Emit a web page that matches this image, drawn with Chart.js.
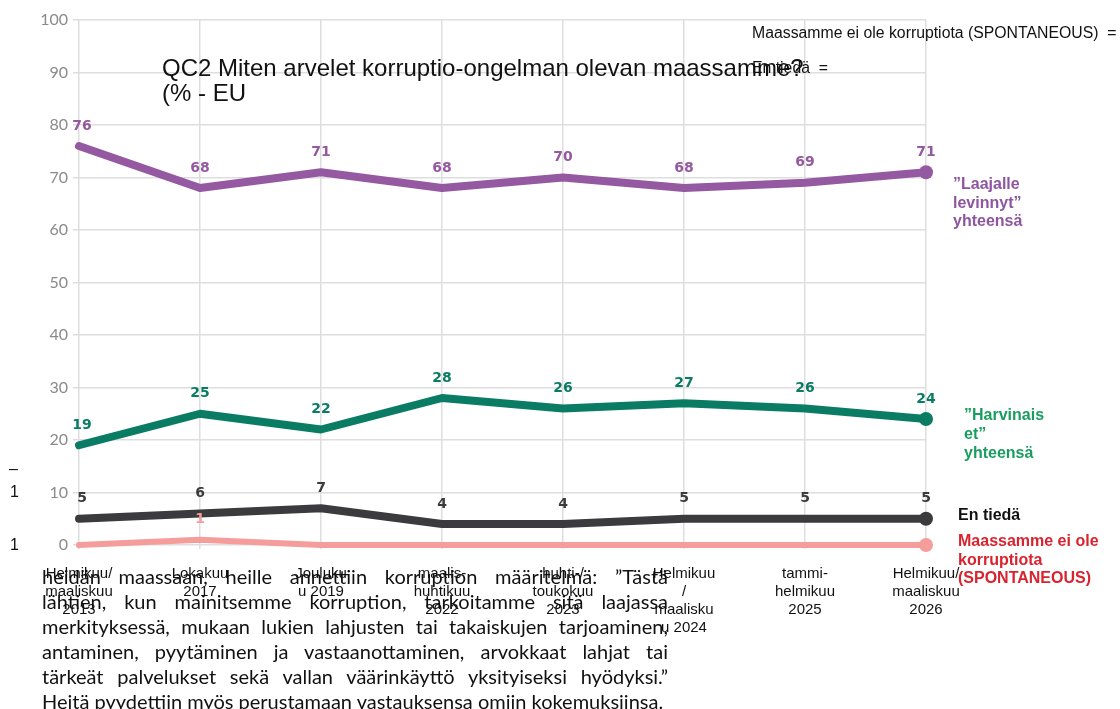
<!DOCTYPE html>
<html>
<head>
<meta charset="utf-8">
<script src="https://cdn.jsdelivr.net/npm/chart.js@4.4.1/dist/chart.umd.min.js"></script>
<style>
    body { margin: 0; background: #fff; }
    #wrap { position: relative; width: 1120px; height: 709px; overflow: hidden; font-family: "Liberation Sans", Arial, sans-serif; }
    #wrap canvas { position: absolute; left: 0; top: 0; }
    .txt { position: absolute; white-space: nowrap; }
    .title { left: 162px; top: 55px; font-size: 24px; line-height: 25px; color: #111; }
    .key { font-size: 15.8px; color: #111; }
    .side { font-size: 16px; font-weight: bold; line-height: 18.5px; }
    .para { position: absolute; left: 42px; top: 564px; width: 626px; font-family: Lato, "Open Sans", sans-serif; font-size: 20px; line-height: 25px; color: #111; }
    .para div { text-align: justify; text-align-last: justify; }
    .para div.last { text-align-last: left; white-space: nowrap; }
    .mark { font-size: 16px; color: #111; }
</style>
</head>
<body>
<div id="wrap">
    <canvas id="lineChart" width="1120" height="709"></canvas>

    <div class="txt title">QC2 Miten arvelet korruptio-ongelman olevan maassamme?<br>(% - EU</div>
    <div class="txt key" style="left:752px; top:24px;">Maassamme ei ole korruptiota (SPONTANEOUS)&nbsp; =</div>
    <div class="txt key" style="left:752px; top:59px;">En tiedä&nbsp; =</div>

    <div class="txt side" style="left:953px; top:175px; color:#8e55a0;">”Laajalle<br>levinnyt”<br>yhteensä</div>
    <div class="txt side" style="left:964px; top:405px; color:#1a9e5f; line-height:19px;">”Harvinais<br>et”<br>yhteensä</div>
    <div class="txt side" style="left:958px; top:506px; color:#111;">En tiedä</div>
    <div class="txt side" style="left:958px; top:532px; color:#d9232e;">Maassamme ei ole<br>korruptiota<br>(SPONTANEOUS)</div>

    <div class="txt mark" style="left:9px; top:460px;">–</div>
    <div class="txt mark" style="left:10px; top:483px;">1</div>
    <div class="txt mark" style="left:10px; top:536px;">1</div>

    <div class="para">
        <div>heidän maassaan, heille annettiin korruption määritelmä: ”Tästä</div>
        <div>lähtien, kun mainitsemme korruption, tarkoitamme sitä laajassa</div>
        <div>merkityksessä, mukaan lukien lahjusten tai takaiskujen tarjoaminen,</div>
        <div>antaminen, pyytäminen ja vastaanottaminen, arvokkaat lahjat tai</div>
        <div>tärkeät palvelukset sekä vallan väärinkäyttö yksityiseksi hyödyksi.”</div>
        <div class="last">Heitä pyydettiin myös perustamaan vastauksensa omiin kokemuksiinsa.</div>
    </div>
</div>

<script>
// survey waves
const waves = [
    ['Helmikuu/', 'maaliskuu', '2013'],
    ['Lokakuu', '2017'],
    ['Jouluku', 'u 2019'],
    ['maalis-', 'huhtikuu', '2022'],
    ['huhti-/', 'toukokuu', '2023'],
    ['Helmikuu', '/', 'maalisku', 'u 2024'],
    ['tammi-', 'helmikuu', '2025'],
    ['Helmikuu/', 'maaliskuu', '2026']
];

const widespread = [76, 68, 71, 68, 70, 68, 69, 71];
const rare = [19, 25, 22, 28, 26, 27, 26, 24];
const dontKnow = [5, 6, 7, 4, 4, 5, 5, 5];
const noCorruption = [0, 1, 0, 0, 0, 0, 0, 0];

const yTicks = [0, 10, 20, 30, 40, 50, 60, 70, 80, 90, 100];

function lastDot(values){
    return values.map((v, i) => i === values.length - 1 ? 7 : 0);
}

function makeLine(values, color, width){
    return {
        data: values,
        borderColor: color,
        backgroundColor: color,
        pointBackgroundColor: color,
        pointBorderWidth: 0,
        borderWidth: width,
        borderCapStyle: 'round',
        borderJoinStyle: 'round',
        pointRadius: lastDot(values),
        pointHoverRadius: lastDot(values),
        tension: 0,
        clip: false,
        labelColor: color
    };
}

// value labels above each point (zeros are left out like in the original)
const valueLabels = {
    id: 'valueLabels',
    afterDatasetsDraw(chart){
        const ctx = chart.ctx;
        chart.data.datasets.forEach((ds, i) => {
            let meta = chart.getDatasetMeta(i);
            meta.data.forEach((pt, j) => {
                let v = ds.data[j];
                if(!v) return;
                ctx.save();
                ctx.fillStyle = ds.labelColor;
                ctx.font = 'bold 14px "DejaVu Sans"';
                ctx.textAlign = 'center';
                ctx.textBaseline = 'middle';
                ctx.fillText(v, pt.x + (j === 0 ? 3 : 0), pt.y - 20);
                ctx.restore();
            });
        });
    }
};

const data = {
    labels: waves,
    datasets: [
        makeLine(noCorruption, '#f49d9a', 6),
        makeLine(dontKnow, '#3b3a3c', 8),
        makeLine(rare, '#0a7c63', 8),
        makeLine(widespread, '#9459a0', 8)
    ]
};

const config = {
    type: 'line',
    data: data,
    options: {
        responsive: false,
        animation: false,
        layout: {
            padding: { top: 20, right: 194, bottom: 0, left: 0 }
        },
        plugins: {
            legend: { display: false },
            tooltip: { enabled: false }
        },
        scales: {
            x: {
                offset: false,
                grid: { color: '#dedede', lineWidth: 1.5, tickLength: 4 },
                border: { display: false },
                ticks: {
                    color: '#111',
                    font: { family: 'Liberation Sans', size: 15, lineHeight: 1.2 },
                    padding: 16,
                    maxRotation: 0,
                    autoSkip: false
                },
                afterFit: function(scale){ scale.height = 164; }
            },
            y: {
                min: yTicks[0],
                max: yTicks[yTicks.length - 1],
                grid: { color: '#dedede', lineWidth: 1.5, tickLength: 6 },
                border: { display: false },
                afterBuildTicks: function(scale){ scale.ticks = yTicks.map(v => ({ value: v })); },
                ticks: {
                    color: '#8a8a8a',
                    font: { family: 'Lato', size: 16 },
                    padding: 5
                },
                afterFit: function(scale){ scale.width = 79; }
            }
        }
    },
    plugins: [valueLabels]
};

const lineChart = new Chart(
    document.getElementById('lineChart'),
    config
);
</script>
</body>
</html>
